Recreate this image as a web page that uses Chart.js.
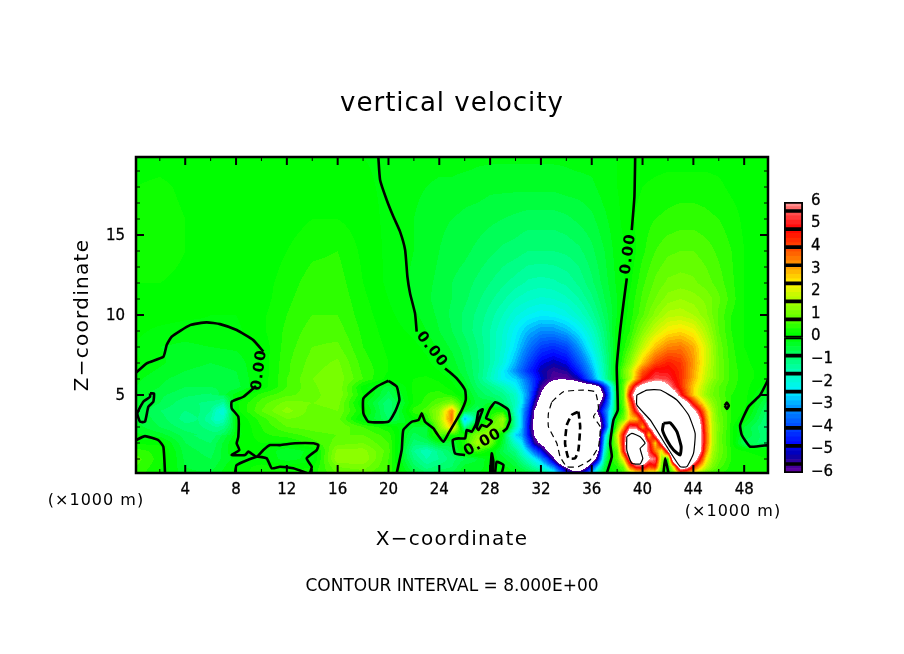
<!DOCTYPE html>
<html>
<head>
<meta charset="utf-8">
<title>vertical velocity</title>
<script src="https://cdn.jsdelivr.net/npm/chart.js@4/dist/chart.umd.min.js"></script>
<style>
  html, body { margin: 0; padding: 0; background: #fff; }
  #main { position: absolute; left: 0; top: 0; }
  #bar { position: absolute; left: 770px; top: 190px; }
</style>
</head>
<body>
<canvas id="main" width="904" height="654"></canvas>
<canvas id="bar" width="70" height="295"></canvas>
<script>
// grid of the w field, km
const xNodes = [0.125,2,4,6,8,10,12,14,16,18,20,22,23,24,25,26,27,28,29,30,31,32,33,34,35,36,37,38,39,40,41,42,43,44,45,46,47,48,49.875];
const zNodes = [19.875,18,16,14,12,11,10,9,8,7,6.5,6,5.5,5,4.5,4,3.5,3,2.5,2,1.5,1,0.5,0.125];

// one row per zNodes entry, top row first
const wField = [
  [.1,.1,.1,.05,0,0,.05,.05,.05,0,-.05,-.1,-.1,-.1,-.1,-.1,-.15,-.15,-.15,-.15,-.15,-.15,-.15,-.15,-.1,-.1,-.05,0,.05,.1,.1,.1,.1,.1,.1,.1,.05,.05,.05],
  [.2,.25,.15,.05,0,0,.05,.1,.1,.05,-.05,-.15,-.2,-.25,-.25,-.3,-.3,-.35,-.35,-.35,-.35,-.35,-.35,-.3,-.3,-.25,-.1,0,.1,.2,.25,.3,.3,.3,.3,.25,.15,.1,.05],
  [.3,.3,.2,.05,0,0,.1,.2,.2,.1,-.05,-.2,-.3,-.35,-.4,-.45,-.5,-.55,-.6,-.65,-.7,-.7,-.7,-.65,-.55,-.45,-.25,-.05,.15,.3,.4,.45,.5,.5,.45,.4,.3,.15,.05],
  [.25,.3,.2,.05,0,.05,.2,.35,.4,.15,-.05,-.2,-.3,-.4,-.5,-.55,-.65,-.75,-.85,-.9,-1,-1,-1,-.95,-.85,-.65,-.4,-.1,.05,.35,.6,.75,.8,.8,.7,.55,.4,.2,.05],
  [.2,.2,.15,.05,0,.1,.3,.5,.5,.2,-.05,-.25,-.35,-.45,-.6,-.7,-.85,-1,-1.15,-1.3,-1.45,-1.5,-1.45,-1.35,-1.15,-.85,-.5,-.15,.15,.55,.85,1.05,1.1,1.05,.9,.7,.45,.2,.05],
  [.15,.15,.1,.05,0,.1,.35,.55,.55,.25,0,-.25,-.35,-.5,-.6,-.75,-.95,-1.15,-1.35,-1.6,-1.75,-1.85,-1.8,-1.65,-1.4,-1.05,-.6,-.2,.25,.65,1,1.3,1.4,1.3,1.15,.85,.5,.2,.05],
  [.1,.1,.05,0,0,.15,.4,.6,.6,.3,.05,-.15,-.3,-.45,-.65,-.85,-1.05,-1.3,-1.6,-1.95,-2.2,-2.35,-2.3,-2.1,-1.75,-1.3,-.75,-.2,.3,.75,1.3,1.7,1.75,1.6,1.25,.75,.4,.2,.05],
  [.05,-.05,-.1,-.05,-.05,.15,.45,.7,.7,.35,.1,-.05,-.2,-.4,-.6,-.85,-1.1,-1.4,-1.8,-2.3,-2.85,-3.2,-3.2,-2.9,-2.4,-1.7,-.95,-.05,.4,1.2,1.9,2.4,2.55,2.3,1.6,.8,.4,.2,.05],
  [-.02,-.2,-.25,-.2,-.15,.05,.5,.8,.85,.4,.15,.05,-.05,-.25,-.45,-.7,-1,-1.4,-1.85,-2.5,-3.4,-4.1,-4.3,-4,-3.1,-2.1,-1.1,-.05,.7,1.8,2.8,3.4,3.5,3,2,.95,.45,.2,.05],
  [.05,-.15,-.35,-.4,-.35,.05,.55,.9,1.05,.5,.2,.1,.05,-.1,-.3,-.6,-.95,-1.4,-2,-2.9,-4,-4.9,-5.2,-4.9,-3.9,-2.7,-1.3,0,1.2,2.8,4,4.5,4.2,3.2,2,1,.5,.25,.05],
  [-.05,-.25,-.4,-.45,-.4,.05,.55,.95,1.1,.55,.2,.15,.1,0,-.2,-.55,-.95,-1.5,-2.3,-3.2,-4.3,-5.2,-5.6,-5.4,-4.4,-3,-1.4,.1,1.7,3.8,4.9,4.9,4.3,3.1,1.9,1,.5,.3,.05],
  [-.15,-.35,-.5,-.55,-.45,.05,.6,1,1.15,.6,.1,.2,.25,.15,-.05,-.4,-.95,-1.6,-2.3,-2.6,-3.7,-5,-5.85,-5.9,-5.2,-3.4,-1.5,.05,1.6,4.5,5.5,5.3,4.3,3,1.8,1,.5,.3,.05],
  [-.2,-.4,-.6,-.6,-.5,.05,.6,.95,1.2,.1,-.5,.25,.35,.3,.1,-.25,-.8,-1.1,-1.5,-2.2,-3.4,-5.6,-7,-7.5,-7.5,-7.2,-4.5,-.1,3.5,6.8,7.5,6.3,4.4,2.7,1.5,.8,.45,.3,-.15],
  [-.25,-.55,-.75,-.85,-.1,.5,.75,.9,1.2,.2,-.7,.25,.4,.5,.35,-.05,-.6,-.9,-1.1,-1.7,-3.3,-6.1,-8.2,-9,-8.8,-8.4,-5.6,-.2,4.8,8.4,9.5,8.6,5.2,2.7,1.4,.8,.4,.3,-.4],
  [-.35,-.6,-.95,-1.2,.15,.7,1.1,1,1.1,-.05,-1,.25,.5,.8,1.2,.15,-.5,-.4,-.9,-1.6,-3.7,-6.8,-8.6,-10.2,-11,-8.8,-4.8,-.1,3.6,8.6,9.6,9.8,8,4.4,2,.9,.4,.3,-.7],
  [-.4,-.8,-1,-1.7,.1,.8,1.3,.9,1,.2,-1,.5,.7,1.4,3.4,-.4,-.8,.25,.3,-1.8,-4.2,-7,-10,-13.6,-15.4,-8.5,-3.8,-.1,2.8,7,9.8,11.5,10,6.7,2.9,.9,.4,.2,-.9],
  [-.4,-.7,-1.1,-1.9,-.05,.5,1,.9,.9,-.1,-.8,.1,.4,1.5,3.6,-3,-.7,.4,1.5,-1.5,-4.5,-7.2,-11,-16.4,-16.6,-8.3,-4.4,.3,2.6,5.2,9.4,14,11,8,3.4,1,.4,0,-1],
  [-.3,-.6,-.9,-1.2,-.1,.4,.8,.9,1,.6,.25,-.4,-.4,1.2,2.8,-1.2,.3,1.1,1.2,-1.6,-4.7,-7.2,-11,-16.5,-16.6,-9,-4.8,1,5.6,3,8,17,13,8.3,3.6,1.1,.3,-.4,-1.1],
  [-.15,-.3,-.7,-1,-.1,.35,.5,.7,.8,.8,.5,-.7,-.4,.8,.3,.4,1.2,1.4,-.2,-2.6,-4.6,-7,-8.5,-16.5,-16.5,-9.8,-3,2,7.5,6.8,6,16.5,15,8.3,3.8,1,.3,-.4,-1],
  [.15,.15,-.6,-.8,.05,.2,.15,.5,.9,1,.6,-.9,-.8,-.3,-.5,.4,1.6,1.1,-.4,-1.8,-3.9,-6.3,-7.6,-16.5,-16.4,-9,-2.4,1.6,8.3,8.2,2.6,10,17,8.8,3.8,1,.3,-.7,-.9],
  [.5,.3,-.5,-.7,.05,.05,-.4,-.1,1.3,1.3,.7,-1.2,-1.6,-1.1,-.7,.3,.6,.1,-.6,-1.1,-2.7,-4.7,-7.2,-16,-15.5,-8.6,-1.8,.8,8.3,7.5,3.5,6,16,8.4,3.4,1,.4,.2,.1],
  [.7,.3,-.45,-.6,-.1,0,-.3,-.1,1.4,1.4,.6,-1,-1.4,-1.2,-.9,-.6,-.4,-.05,-.3,-.7,-1.7,-3,-5.7,-12,-13,-7.5,-1.2,.7,6,8,5.8,.3,11,7.5,2.5,.9,.4,.3,.2],
  [.6,.25,-.4,-.5,.05,.3,.1,.2,1,1.1,.6,-.7,-1.1,-.9,-.8,-.3,-.3,-.1,-.1,-.4,-1,-1.8,-3.3,-6.2,-7.8,-4.5,-.6,.4,3.6,5.3,4.5,0,7.5,4.6,1.8,.7,.3,.3,.2],
  [.5,.2,-.35,-.4,.1,.3,.3,.3,.8,.9,.5,-.4,-.8,-.7,-.6,-.2,-.2,-.1,0,-.2,-.5,-1,-2,-4.5,-5.2,-2.8,-.3,.2,1.5,2.4,2,-.05,3.5,2.2,.9,.4,.3,.2,.2]
];

// finer readings around the two strong cells
const coreX = [30,30.5,31,31.5,32,32.5,33,33.5,34,34.5,35,35.5,36,36.5,37,37.5,38,38.5,39,39.5,40,40.5,41,41.5,42,42.5,43,43.5,44,44.5,45,45.5,46];
const coreZ = [6,5.5,5,4.5,4,3.5,3,2.5,2,1.5,1,.5,.125];
const coreField = [
  [-2.6,-3,-3.7,-4.4,-5,-5.5,-5.85,-5.95,-5.9,-5.7,-5.2,-4.4,-3.4,-2.4,-1.5,-.6,.05,.6,1.6,3,4.5,5.2,5.5,5.5,5.3,4.8,4.3,3.6,3,2.4,1.8,1.3,1],
  [-2.2,-2.8,-3.4,-4.4,-5.6,-6.3,-7,-7.3,-7.5,-7.6,-7.5,-7.4,-7.2,-6.6,-4.5,-2.5,-.1,.9,3.5,5.8,6.8,7.3,7.5,7.2,6.3,5.3,4.4,3.5,2.7,2.1,1.5,1.1,.8],
  [-1.7,-2.5,-3.3,-4.8,-6.1,-7,-8.2,-8.7,-9,-9,-8.8,-8.6,-8.4,-7.8,-5.6,-2.8,-.2,1,4.8,7.2,8.4,9.2,9.5,9.3,8.6,7,5.2,3.8,2.7,2,1.4,1,.8],
  [-1.6,-2.4,-3.7,-5.4,-6.8,-7.6,-8.6,-9.5,-10.2,-10.8,-11,-10,-8.8,-6.5,-4.8,-2.6,-.1,.9,3.6,6.3,8.6,9.3,9.6,9.9,9.8,9,8,6.4,4.4,3,2,1.3,.9],
  [-1.8,-2.8,-4.2,-6.1,-7,-8,-10,-12,-13.6,-15,-15.4,-12,-8.5,-5.6,-3.8,-2.2,-.1,.6,2.8,5.2,7,8.6,9.8,11,11.5,11,10,8.4,6.7,4.8,2.9,1.6,.9],
  [-1.5,-2.8,-4.5,-6.3,-7.2,-8.5,-11,-14,-16.4,-17,-16.6,-12,-8.3,-6.8,-4.4,-1.8,.3,1,2.6,2.8,5.2,7.5,9.4,11.5,14,13.5,11,9.8,8,6,3.4,1.7,1],
  [-1.6,-2.8,-4.7,-6.4,-7.2,-8.6,-11,-14,-16.5,-17.5,-16.6,-12,-9,-7,-4.8,-1.6,1,3,5.6,5.4,3,5.8,8,14,17,16,13,10.5,8.3,6.6,3.6,1.8,1.1],
  [-2.6,-3,-4.6,-6.1,-7,-7.8,-8.5,-11,-16.5,-18,-16.5,-12.5,-9.8,-7,-3,-.2,2,4.8,7.5,8.4,6.8,2.7,6,9,16.5,18,15,11,8.3,6.8,3.8,1.8,1],
  [-1.8,-2.4,-3.9,-5.4,-6.3,-7,-7.6,-10,-16.5,-18,-16.4,-12,-9,-6.8,-2.4,.1,1.6,5,8.3,9.5,8.2,5.2,2.6,6.2,10,16.5,17,12,8.8,6.8,3.8,1.8,1],
  [-1.1,-1.8,-2.7,-3.7,-4.7,-6,-7.2,-9.5,-16,-17,-15.5,-11,-8.6,-6.3,-1.8,.3,.8,4.8,8.3,8.8,7.5,5.5,3.5,2.2,6,11,16,12,8.4,6.5,3.4,1.6,1],
  [-.7,-1.2,-1.7,-2.3,-3,-4.2,-5.7,-8,-12,-14,-13,-10,-7.5,-5,-1.2,.3,.7,2.5,6,8.4,8,6.1,5.8,1.5,.3,9,11,10,7.5,5,2.5,1.4,.9],
  [-.4,-.7,-1,-1.4,-1.8,-2.5,-3.3,-4.8,-6.2,-7.5,-7.8,-6.5,-4.5,-2.3,-.6,.2,.4,.9,3.6,5,5.3,4,4.5,1,0,2.8,7.5,6.6,4.6,2.9,1.8,1.1,.7],
  [-.2,-.3,-.5,-.7,-1,-1.4,-2,-3.2,-4.5,-5,-5.2,-4.2,-2.8,-1.2,-.3,.1,.2,.6,1.5,2.2,2.4,2,2,.5,-.05,1.2,3.5,3.2,2.2,1.4,.9,.6,.4]
];

// the cyan spot left of x = 8
const spotX = [4,5,6,6.5,7,7.5,8];
const spotZ = [5,4.5,4,3.5,3,2.5];
const spotField = [
  [-.75,-.8,-.85,-.8,-.7,-.3,-.1],
  [-.95,-1,-1.05,-1.1,-1.3,-.6,.15],
  [-1,-.95,-1.2,-1.7,-2,-1,.1],
  [-1.1,-1,-1.4,-1.8,-1.6,-.9,-.05],
  [-.9,-.95,-1.1,-1.2,-1.1,-.7,-.1],
  [-.7,-.8,-.9,-.9,-.7,-.4,-.1]
];

// contour traces, [x km, z km]
const zeroWest = [[.125,6.39],[.97,6.98],[2.28,7.39],[2.54,8.12],[2.93,8.64],[4.38,9.37],[5.69,9.54],[6.74,9.43],[8.05,9.06],[9.36,8.43],[10.15,7.71]];
const zeroWestLow = [[9.57,5.56],[8.58,4.89],[7.66,4.58],[7.66,4.16],[8.18,3.64],[8.18,2.39],[8.05,1.98],[8.26,1.56],[7.66,1.25],[8.71,1.25],[8.97,1.46],[9.63,1.14],[10.15,1.56],[10.68,1.87],[11.46,1.87],[12.65,1.98],[14.09,1.98],[14.48,1.87],[14.35,1.56],[13.56,1.04],[13.96,.52],[13.83,.125]];
const zeroArc = [[7.92,.125],[8.05,.62],[9.63,1.14],[10.41,1.04],[10.81,.42],[11.46,.52],[12.51,.42],[13.56,.125]];
const zeroSliver = [[1.23,5.1],[1.54,5.1],[1.49,4.58],[1.1,4.27],[.83,3.33],[.44,3.33],[.23,3.85],[.7,4.58],[1.23,4.89]];
const zeroCorner = [[.125,2.18],[.83,2.43],[1.88,2.18],[2.28,1.77],[2.41,.125]];
const zeroMidTop = [[19.2,19.875],[19.34,18.44],[19.86,17.19],[20.39,16.14],[20.91,15.21],[21.31,14.06],[21.49,12.39],[21.7,11.35],[22.09,10.1],[22.22,8.96]];
const zeroMidLow = [[24.45,6.66],[24.85,6.41],[25.37,6.04],[26.03,5.31],[26.08,4.69],[25.64,3.85],[24.72,2.6],[24.32,2.08],[23.8,2.6],[23.54,2.91],[22.88,3.33],[22.62,3.85],[22.36,3.43],[21.83,3.33],[21.17,2.81],[21.04,1.56],[20.65,.125]];
const zeroBlob = [[19.99,5.89],[20.65,5.52],[20.86,4.69],[20.52,3.96],[19.99,3.33],[18.42,3.33],[18.03,3.85],[18.03,4.79],[19.08,5.52]];
const zeroCluster = [[29,2.7],[29.31,2.91],[29.57,3.43],[29.44,4.06],[28.92,4.37],[28.39,4.54],[28,4.16],[27.68,3.54],[28,3.43],[28.13,3.33],[27.74,3.02],[27.34,3.12],[27.08,2.81],[26.95,2.98],[27.21,3.64],[27.42,4.1],[27.08,3.96],[26.9,3.23],[26.56,2.71],[26.16,2.81],[26.03,2.29],[25.51,2.29],[25.06,2.18],[25.24,1.35],[26.03,1.25]];
const zeroStubA = [[28,.125],[28.13,1.35],[28.26,.83],[28.2,.125]];
const zeroStubB = [[28.39,.125],[28.52,.83],[29.05,.62],[28.92,.125]];
const zeroEastTop = [[39.42,19.875],[39.36,17.39],[39.15,15.31]];
const zeroEastLow = [[38.76,12.29],[38.5,10.73],[38.24,9.06],[37.97,6.77],[38.05,4.06],[37.71,3.44],[37.45,1.98],[37.58,1.15],[37.19,.125]];
const zeroSpike = [[41.65,.125],[41.78,1.04],[42.04,.125]];
const zeroRight = [[49.875,5.94],[49.26,5],[48.34,4.27],[47.68,3.12],[47.81,2.5],[48.47,1.77],[49.875,1.87]];
const zeroDot = [[46.47,4.33],[46.63,4.53],[46.79,4.33],[46.63,4.13]];
const neg8 = [[32.86,4.58],[33.77,5.2],[35.35,5.31],[36.27,5.2],[36.53,4.16],[36.14,3.64],[36.66,3.02],[36.53,1.77],[35.87,.94],[34.95,.52],[34.04,.52],[33.51,1.15],[33.25,1.98],[32.59,3.02],[32.59,3.85]];
const neg16 = [[34.95,3.96],[35.09,3.02],[34.95,1.56],[34.69,1.04],[34.17,1.04],[33.9,1.98],[34.04,3.12],[34.43,3.75]];
const pos8Big = [[39.55,5],[40.34,5.31],[41.39,5.31],[42.7,4.69],[43.62,3.75],[44.14,2.6],[44.01,1.35],[43.49,.52],[42.96,.52],[41.91,1.77],[40.6,3.44],[39.55,4.37]];
const pos8Small = [[38.76,2.39],[39.15,2.6],[39.81,2.39],[40.2,1.98],[39.81,1.66],[40.02,1.04],[39.81,.69],[39.15,.73],[38.76,1.56]];
const pos16 = [[41.65,3.23],[42.17,3.27],[42.7,2.71],[43.04,1.77],[42.96,1.25],[42.44,1.56],[41.91,2.19],[41.57,2.81]];

// label centres along the zero line: x km, z km, degrees
const lineLabels = [[23.4,7.85,52],[9.84,6.56,-82],[38.89,13.81,-82],[27.42,2.02,-30]];

const xLabelTicks = [4,8,12,16,20,24,28,32,36,40,44,48];
const xMinorTicks = [2,6,10,14,18,22,26,30,34,38,42,46];
const zLabelTicks = [5,10,15];
const zMinorTicks = [1,2,3,4,6,7,8,9,11,12,13,14,16,17,18,19];

// colour bar: black boxes and the colour ramp
const boxEdges = [-6,-5.6,-4.8,-4,-3.2,-2.4,-1.6,-.8,0,.8,1.6,2.4,3.2,4,4.8,5.6,6];
const barTicks = [-6,-5,-4,-3,-2,-1,0,1,2,3,4,5,6];
const rampValues = [-6,-5.6,-5.2,-4.8,-4,-3.2,-2.4,-1.6,-.8,0,.2,.8,1.6,2.4,3.2,4,4.8,5.6,6];
const rampColors = [[100,0,160],[60,0,150],[0,0,170],[0,0,255],[0,70,255],[0,140,255],[0,240,255],[0,255,190],[0,255,100],[0,255,0],[0,255,0],[90,255,0],[170,255,0],[255,240,0],[255,150,0],[255,70,0],[255,0,0],[255,90,90],[255,160,160]];

const FONT = '"DejaVu Sans", sans-serif';

function rampColor(w) {
  let i = 0;
  while (i < rampValues.length - 2 && w > rampValues[i + 1]) i++;
  const t = (w - rampValues[i]) / (rampValues[i + 1] - rampValues[i]);
  return rampColors[i].map((c, k) => Math.round(c + (rampColors[i + 1][k] - c) * t));
}

// band colour, w is binned by 0.2; outside +-6 stays white
function bandColor(w) {
  if (w >= 6 || w <= -6) return [255, 255, 255];
  const lo = Math.floor((w + 6) / 0.2) * 0.2 - 6;
  return rampColor(lo + 0.1);
}

function lookup(xs, zs, grid, x, z) {
  let i = 0, j = 0;
  while (i < xs.length - 2 && x > xs[i + 1]) i++;
  while (j < zs.length - 2 && z < zs[j + 1]) j++;
  const tx = Math.min(1, Math.max(0, (x - xs[i]) / (xs[i + 1] - xs[i])));
  const tz = Math.min(1, Math.max(0, (z - zs[j]) / (zs[j + 1] - zs[j])));
  const a = grid[j][i] + (grid[j][i + 1] - grid[j][i]) * tx;
  const b = grid[j + 1][i] + (grid[j + 1][i + 1] - grid[j + 1][i]) * tx;
  return a + (b - a) * tz;
}

function sampleField(x, z) {
  if (x >= 30 && x <= 46 && z <= 6) return lookup(coreX, coreZ, coreField, x, z);
  if (x >= 4 && x <= 8 && z >= 2.5 && z <= 5) return lookup(spotX, spotZ, spotField, x, z);
  return lookup(xNodes, zNodes, wField, x, z);
}

const fieldShading = {
  id: 'fieldShading',
  beforeDatasetsDraw(chart) {
    const { ctx, chartArea: a, scales } = chart;
    const w = Math.round(a.right - a.left), h = Math.round(a.bottom - a.top);
    const off = document.createElement('canvas');
    off.width = w; off.height = h;
    const octx = off.getContext('2d');
    const img = octx.createImageData(w, h);
    for (let py = 0; py < h; py++) {
      const z = scales.y.getValueForPixel(a.top + py + .5);
      for (let px = 0; px < w; px++) {
        const x = scales.x.getValueForPixel(a.left + px + .5);
        const c = bandColor(sampleField(x, z));
        const k = (py * w + px) * 4;
        img.data[k] = c[0]; img.data[k + 1] = c[1]; img.data[k + 2] = c[2]; img.data[k + 3] = 255;
      }
    }
    octx.putImageData(img, 0, 0);
    ctx.drawImage(off, a.left, a.top);
  }
};

function text(ctx, str, x, y, size, spacing, rot, weight) {
  ctx.save();
  ctx.translate(x, y);
  if (rot) ctx.rotate(rot * Math.PI / 180);
  ctx.font = (weight || 'normal') + ' ' + size + 'px ' + FONT;
  ctx.letterSpacing = (spacing || 0) + 'px';
  ctx.textAlign = 'center';
  ctx.textBaseline = 'middle';
  ctx.fillStyle = '#000';
  ctx.fillText(str, 0, 0);
  ctx.restore();
}

const frameAndText = {
  id: 'frameAndText',
  afterDatasetsDraw(chart) {
    const { ctx, chartArea: a, scales } = chart;
    ctx.save();
    ctx.strokeStyle = '#000';
    // inward ticks on all four sides
    const xt = (list, len) => list.forEach(v => {
      const p = scales.x.getPixelForValue(v);
      ctx.moveTo(p, a.bottom); ctx.lineTo(p, a.bottom - len);
      ctx.moveTo(p, a.top); ctx.lineTo(p, a.top + len);
    });
    const yt = (list, len) => list.forEach(v => {
      const p = scales.y.getPixelForValue(v);
      ctx.moveTo(a.left, p); ctx.lineTo(a.left + len, p);
      ctx.moveTo(a.right, p); ctx.lineTo(a.right - len, p);
    });
    ctx.lineWidth = 2;
    ctx.beginPath(); xt(xLabelTicks, 8); yt(zLabelTicks, 8); ctx.stroke();
    ctx.lineWidth = 1;
    ctx.beginPath(); xt(xMinorTicks, 4); yt(zMinorTicks, 4); ctx.stroke();
    ctx.lineWidth = 2.5;
    ctx.strokeRect(a.left, a.top, a.right - a.left, a.bottom - a.top);
    ctx.restore();

    lineLabels.forEach(l => text(ctx, '0.00', scales.x.getPixelForValue(l[0]), scales.y.getPixelForValue(l[1]), 15, 1, l[2], 'bold'));

    text(ctx, 'vertical velocity', 452, 104, 26, 1);
    text(ctx, 'X\u2212coordinate', 452, 540, 20, 1.3);
    text(ctx, 'Z\u2212coordinate', 83, 315, 20, 1.3, -90);
    text(ctx, 'CONTOUR INTERVAL = 8.000E+00', 452, 587, 17, 0);
    text(ctx, '(\u00d71000 m)', 96, 501, 16, 1);
    text(ctx, '(\u00d71000 m)', 733, 512, 16, 1);
  }
};

function line(points, width, dash, closed) {
  const pts = closed ? points.concat([points[0]]) : points;
  return {
    data: pts.map(p => ({ x: p[0], y: p[1] })),
    showLine: true, pointRadius: 0, borderColor: '#000',
    borderWidth: width, borderDash: dash || [], tension: 0.15
  };
}

new Chart(document.getElementById('main'), {
  type: 'scatter',
  data: {
    datasets: [
      line(zeroWest, 2.6), line(zeroWestLow, 2.6), line(zeroArc, 2.6), line(zeroSliver, 2.6, null, true),
      line(zeroCorner, 2.6), line(zeroMidTop, 2.6), line(zeroMidLow, 2.6), line(zeroBlob, 2.6, null, true),
      line(zeroCluster, 2.6), line(zeroStubA, 2.6), line(zeroStubB, 2.6), line(zeroEastTop, 2.6),
      line(zeroEastLow, 2.6), line(zeroSpike, 2.6), line(zeroRight, 2.6), line(zeroDot, 2.6, null, true),
      line(neg8, 1.2, [6, 4], true), line(neg16, 2.6, [7, 4], true),
      line(pos8Big, 1.2, null, true), line(pos8Small, 1.2, null, true), line(pos16, 3, null, true)
    ]
  },
  options: {
    responsive: false,
    animation: false,
    events: [],
    layout: { padding: { top: 157, right: 136, left: 0, bottom: 0 } },
    plugins: { legend: { display: false }, tooltip: { enabled: false }, title: { display: false } },
    scales: {
      x: {
        type: 'linear', min: .125, max: 49.875,
        grid: { display: false }, border: { display: false },
        afterBuildTicks: s => { s.ticks = xLabelTicks.map(v => ({ value: v })); },
        afterFit: s => { s.height = 181; },
        ticks: { color: '#000', font: { family: FONT, size: 15 }, padding: 0, maxRotation: 0, autoSkip: false, textStrokeColor: '#000', textStrokeWidth: .3 }
      },
      y: {
        type: 'linear', min: .125, max: 19.875,
        grid: { display: false }, border: { display: false },
        afterBuildTicks: s => { s.ticks = zLabelTicks.map(v => ({ value: v })); },
        afterFit: s => { s.width = 136; },
        ticks: { color: '#000', font: { family: FONT, size: 15 }, padding: 3, labelOffset: 1.5, autoSkip: false, textStrokeColor: '#000', textStrokeWidth: .3 }
      }
    }
  },
  plugins: [fieldShading, frameAndText]
});

// colour bar, floating bars over one category. first dataset paints on top, so boxes go first
const barSets = [];
for (let k = 0; k < boxEdges.length - 1; k++) {
  barSets.push({ data: [[boxEdges[k], boxEdges[k + 1]]], backgroundColor: 'rgba(0,0,0,0)', borderColor: '#000', borderWidth: 1.5, borderSkipped: false, grouped: false, barPercentage: 1, categoryPercentage: 1 });
}
for (let k = 0; k < 60; k++) {
  const lo = -6 + k * 0.2, hi = lo + 0.2;
  const c = rampColor(lo + 0.1);
  barSets.push({ data: [[lo, hi]], backgroundColor: `rgb(${c.join(',')})`, borderWidth: 0, grouped: false, barPercentage: 1, categoryPercentage: 1 });
}

new Chart(document.getElementById('bar'), {
  type: 'bar',
  data: { labels: ['w'], datasets: barSets },
  options: {
    responsive: false,
    animation: false,
    events: [],
    layout: { padding: { top: 12, bottom: 12, left: 14, right: 0 } },
    plugins: { legend: { display: false }, tooltip: { enabled: false } },
    scales: {
      x: { display: false },
      y: {
        position: 'right', min: -6, max: 6,
        grid: { display: false, drawTicks: false }, border: { display: false },
        afterBuildTicks: s => { s.ticks = barTicks.map(v => ({ value: v })); },
        afterFit: s => { s.width = 37; s.paddingTop = 0; s.paddingBottom = 0; },
        ticks: {
          color: '#000', font: { family: FONT, size: 15 }, padding: 8, labelOffset: -1, autoSkip: false,
          textStrokeColor: '#000', textStrokeWidth: .3,
          callback: v => v < 0 ? '\u2212' + Math.abs(v) : String(v)
        }
      }
    }
  }
});
</script>
</body>
</html>
